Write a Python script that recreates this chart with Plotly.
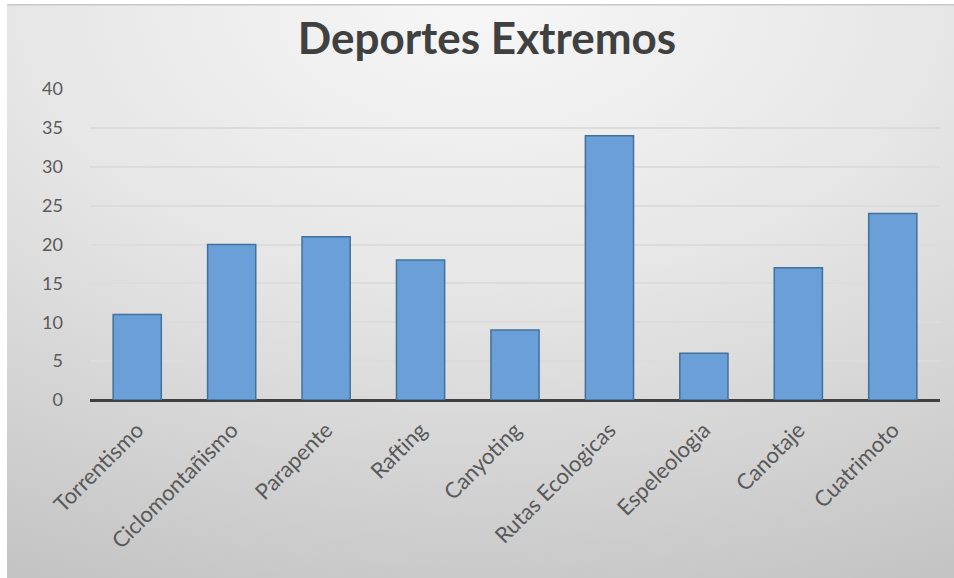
import base64
import plotly.graph_objects as go

categories = ["Torrentismo", "Ciclomontañismo", "Parapente", "Rafting", "Canyoting",
              "Rutas Ecologicas", "Espeleologia", "Canotaje", "Cuatrimoto"]
values = [11, 20, 21, 18, 9, 34, 6, 17, 24]
y_ticks = [0, 5, 10, 15, 20, 25, 30, 35, 40]

W, H = 954, 578
L, R, T, B = 90, 14, 89, 178

# radial grey background like the office chart style
svg = """<svg xmlns='http://www.w3.org/2000/svg' width='947' height='574' preserveAspectRatio='none'>
<defs><radialGradient id='g' cx='0.5' cy='0' r='1.1' gradientUnits='objectBoundingBox'>
<stop offset='0' stop-color='#f7f7f7'/><stop offset='0.45' stop-color='#e6e6e6'/>
<stop offset='1' stop-color='#c4c4c4'/></radialGradient></defs>
<rect width='947' height='574' fill='url(#g)'/>
<rect x='0' y='0' width='947' height='1.5' fill='#c8c8c8'/></svg>"""
bg = "data:image/svg+xml;base64," + base64.b64encode(svg.encode()).decode()

pw, ph = W - L - R, H - T - B
x0 = (7 - L) / pw
x1 = (W - L) / pw
y0 = (H - B - 4) / ph
y1 = (H - B - H) / ph

fig = go.Figure(go.Bar(
    x=categories, y=values,
    marker=dict(color="#6a9fd8", line=dict(color="#41719c", width=1.5)),
))

fig.add_layout_image(dict(source=bg, xref="paper", yref="paper", x=x0, y=y0,
                          sizex=x1 - x0, sizey=y0 - y1, sizing="stretch",
                          xanchor="left", yanchor="top", layer="below"))

fig.update_layout(
    width=W, height=H,
    margin=dict(l=L, r=R, t=T, b=B, autoexpand=False),
    paper_bgcolor="white", plot_bgcolor="rgba(0,0,0,0)",
    title=dict(text="<b>Deportes Extremos</b>", x=487 / W, xref="container",
               xanchor="center", y=1 - 39 / H, yanchor="middle",
               font=dict(family="Lato", size=44, color="#404040")),
    bargap=0.49,
    showlegend=False,
    font=dict(family="Lato", color="#595959"),
)
fig.update_xaxes(tickangle=-45, tickfont=dict(size=22, color="#595959"),
                 showgrid=False, showline=False, ticks="", ticklabelstandoff=12)
fig.update_yaxes(range=[0, 40], tickvals=y_ticks, tickfont=dict(size=18, color="#595959"),
                 showgrid=True, gridcolor="#dcdcdc", gridwidth=1.5,
                 zeroline=True, zerolinecolor="#404040", zerolinewidth=3,
                 showline=False, ticks="", ticklabelstandoff=26)

fig.write_html("out.html", config={"displayModeBar": False},
               post_script="document.body.style.margin='0';")
